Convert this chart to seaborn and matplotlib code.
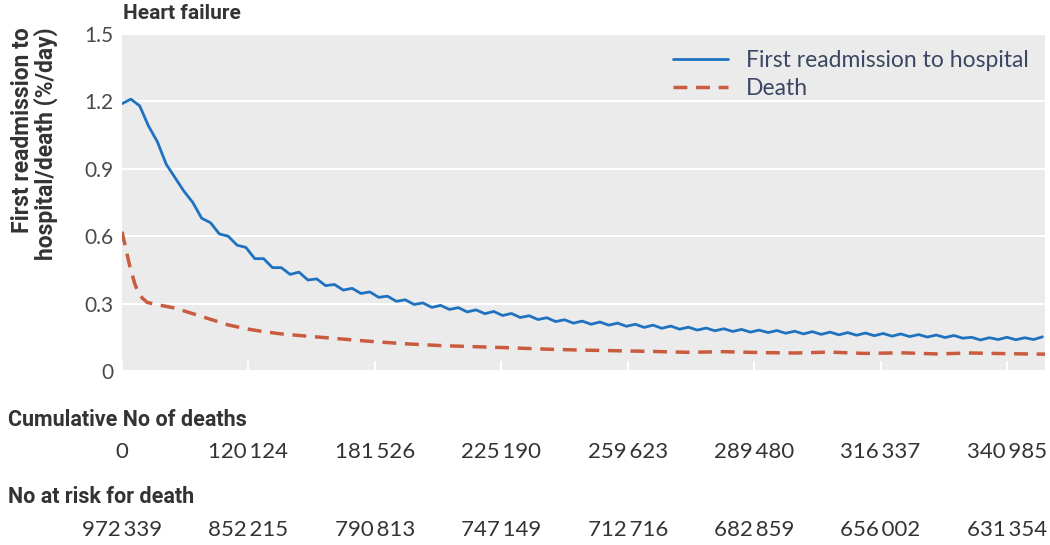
import numpy as np
import pandas as pd
import matplotlib
matplotlib.use("Agg")
import matplotlib.pyplot as plt
import matplotlib.transforms as mtransforms
import seaborn as sns

# first readmission rate (%/day), read every 3.5 days from day 0 to day 364
readmit_days = np.arange(0, 365, 3.5)
readmit_rate = [
    1.19, 1.21, 1.18, 1.09, 1.02, 0.92, 0.86, 0.80, 0.75, 0.68,
    0.66, 0.61, 0.60, 0.56, 0.55, 0.50, 0.50, 0.46, 0.46, 0.43,
    0.44, 0.405, 0.41, 0.38, 0.385, 0.36, 0.368, 0.345, 0.352, 0.328,
    0.333, 0.31, 0.317, 0.296, 0.303, 0.283, 0.292, 0.274, 0.282, 0.263,
    0.272, 0.255, 0.265, 0.247, 0.256, 0.238, 0.246, 0.229, 0.237, 0.22,
    0.228, 0.213, 0.222, 0.208, 0.218, 0.204, 0.213, 0.199, 0.208, 0.194,
    0.204, 0.19, 0.2, 0.186, 0.195, 0.182, 0.191, 0.179, 0.188, 0.176,
    0.185, 0.173, 0.182, 0.171, 0.18, 0.168, 0.177, 0.165, 0.175, 0.163,
    0.173, 0.161, 0.171, 0.159, 0.169, 0.157, 0.167, 0.155, 0.165, 0.153,
    0.162, 0.151, 0.16, 0.149, 0.158, 0.146, 0.15, 0.138, 0.148, 0.14,
    0.15, 0.139, 0.148, 0.14, 0.152,
]

# death rate (%/day)
death_days = [0, 1, 2, 3, 4, 5, 6, 7, 8, 10, 14, 21, 28, 35, 42, 49, 56, 63, 70,
              84, 98, 112, 126, 140, 154, 168, 182, 196, 210, 224, 238, 252, 266,
              280, 294, 308, 322, 336, 350, 365]
death_rate = [0.62, 0.57, 0.52, 0.47, 0.43, 0.39, 0.36, 0.34, 0.325, 0.305, 0.295,
              0.28, 0.255, 0.23, 0.205, 0.188, 0.175, 0.165, 0.158, 0.145, 0.132,
              0.121, 0.113, 0.108, 0.103, 0.097, 0.093, 0.09, 0.087, 0.083, 0.086,
              0.082, 0.08, 0.084, 0.078, 0.081, 0.076, 0.08, 0.077, 0.075]

tick_days = [0, 50, 100, 150, 200, 250, 300, 350]
cum_deaths = ["0", "120\u2009124", "181\u2009526", "225\u2009190", "259\u2009623",
              "289\u2009480", "316\u2009337", "340\u2009985"]
at_risk = ["972\u2009339", "852\u2009215", "790\u2009813", "747\u2009149",
           "712\u2009716", "682\u2009859", "656\u2009002", "631\u2009354"]

blue = "#1f72bf"
red = "#c95b3e"
bold_font = ["Roboto", "DejaVu Sans"]

sns.set_style("darkgrid", {"axes.facecolor": "#ebebeb", "grid.color": "white"})
plt.rcParams["font.family"] = ["Lato", "DejaVu Sans"]

fig = plt.figure(figsize=(10.5, 5.45), dpi=100)
ax = fig.add_axes([0.1162, 0.3193, 0.8790, 0.6183])

sns.lineplot(x=readmit_days, y=readmit_rate, ax=ax, color=blue, lw=2,
             label="First readmission to hospital")
sns.lineplot(x=death_days, y=death_rate, ax=ax, color=red, lw=2.5,
             label="Death")
ax.lines[1].set_dashes([4, 2.5])

ax.set_xlim(0, 365)
ax.set_ylim(0, 1.5)
ax.set_yticks([0, 0.3, 0.6, 0.9, 1.2, 1.5])
ax.set_yticklabels(["0", "0.3", "0.6", "0.9", "1.2", "1.5"])
ax.set_xticks(tick_days)
ax.set_xticklabels([])
ax.grid(axis="x", visible=False)
ax.grid(axis="y", color="white", lw=1.5)
ax.tick_params(axis="x", direction="in", length=7, width=1.5, colors="white",
               bottom=True)
ax.tick_params(axis="y", length=0, pad=6, labelsize=15, labelcolor="#4a4a4a")
for s in ax.spines.values():
    s.set_visible(False)
ax.set_xlabel("")
ax.set_ylabel("")

leg = ax.legend(loc="upper right", frameon=False, fontsize=16.5, handlelength=2.4,
                handletextpad=0.8, labelspacing=0.3, borderaxespad=0.3)
for t in leg.get_texts():
    t.set_color("#3b4763")

fig.text(0.117, 0.976, "Heart failure", fontsize=15, fontweight="bold",
         color="#333333", ha="left", va="center", family=bold_font)
fig.text(0.033, 0.95, "First readmission to\nhospital/death (%/day)",
         rotation=90, fontsize=16.5, fontweight="bold", color="#333333",
         ha="center", va="top", multialignment="right", linespacing=1.0,
         family=bold_font)

# number-at-risk table under the plot
trans = mtransforms.blended_transform_factory(ax.transData, fig.transFigure)
fig.text(0.008, 0.229, "Cumulative No of deaths", fontsize=15.5,
         fontweight="bold", color="#333333", ha="left", va="center",
         family=bold_font)
fig.text(0.008, 0.088, "No at risk for death", fontsize=15.5,
         fontweight="bold", color="#333333", ha="left", va="center",
         family=bold_font)
for d, a, b in zip(tick_days, cum_deaths, at_risk):
    ax.text(d, 0.171, a, transform=trans, fontsize=16, color="#333333",
            ha="center", va="center")
    ax.text(d, 0.028, b, transform=trans, fontsize=16, color="#333333",
            ha="center", va="center")

fig.savefig("out.png", dpi=100)
